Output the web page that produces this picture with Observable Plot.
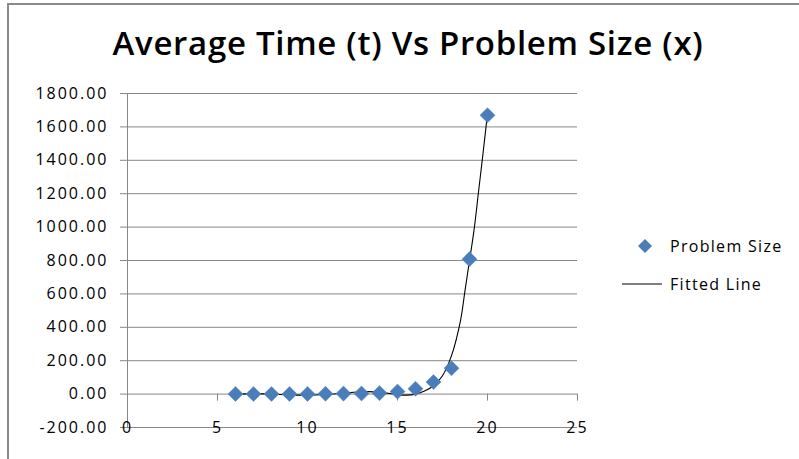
<!DOCTYPE html>
<html>
<head>
<meta charset="utf-8">
<script src="https://cdn.jsdelivr.net/npm/d3@7"></script>
<script src="https://cdn.jsdelivr.net/npm/@observablehq/plot@0.6"></script>
<style>
  html, body { margin: 0; padding: 0; background: #fff; overflow: hidden; }
  #wrap { position: relative; width: 799px; height: 459px; font-family: "Open Sans", sans-serif; }
  #border { position: absolute; left: 7px; top: 3px; width: 900px; height: 600px; border-left: 2px solid #8a8a8a; border-top: 2px solid #8a8a8a; }
  #title { position: absolute; left: 8px; top: 20px; width: 800px; text-align: center; font-family: "Open Sans", sans-serif; font-weight: 600; font-size: 33px; color: #000; letter-spacing: 0.7px; }
  #chart { position: absolute; left: 0; top: 0; }
  .leg { position: absolute; font-size: 16px; color: #000; white-space: nowrap; letter-spacing: 1.3px; }
</style>
</head>
<body>
<div id="wrap">
  <div id="chart"></div>
  <div id="border"></div>
  <div id="title">Average Time (t) Vs Problem Size (x)</div>
  <div id="legend"></div>
</div>
<script>
// Data
const sizes = [6, 7, 8, 9, 10, 11, 12, 13, 14, 15, 16, 17, 18, 19, 20];
const times = [1, 1, 1, 1, 1, 2, 3, 4, 6, 15, 32, 72, 155, 808, 1670];
const fitX = [6, 7, 8, 9, 10, 11, 12, 13, 14, 15, 15.5, 16, 16.5, 17, 17.5, 18, 18.5, 18.75, 19, 19.25, 19.5, 19.75, 20];
const fitY = [0, 3, 0, -5, -6, -2, 5, 14, 12, -3, -6, 0, 18, 50, 110, 230, 440, 620, 800, 980, 1210, 1440, 1680];
const xTicks = [0, 5, 10, 15, 20, 25];
const yTicks = [-200, 0, 200, 400, 600, 800, 1000, 1200, 1400, 1600, 1800];
const seriesNames = ["Problem Size", "Fitted Line"];

const points = sizes.map((x, i) => ({x, y: times[i]}));
const fit = fitX.map((x, i) => ({x, y: fitY[i]}));

const grid = "#878787";
const blue = "#4a7ebb";

const chart = Plot.plot({
  width: 799,
  height: 459,
  marginLeft: 127,
  marginRight: 222,
  marginTop: 93,
  marginBottom: 32,
  style: {fontFamily: "Open Sans, sans-serif", fontSize: "16px", color: "#000", background: "transparent", letterSpacing: "2px"},
  x: {domain: [0, 25], ticks: xTicks, label: null},
  y: {domain: [-200, 1800], ticks: yTicks, label: null},
  marks: [
    Plot.gridY(yTicks, {stroke: grid, strokeOpacity: 1}),
    Plot.ruleX([0], {y1: -200, y2: 1800, stroke: grid}),
    Plot.ruleX(xTicks, {x: d => d, y1: 0, y2: 0, insetBottom: -7, stroke: grid}),
    Plot.axisY(yTicks, {tickSize: 7, tickPadding: 12, tickFormat: d => d.toFixed(2), stroke: grid, fill: "#000", fontSize: 16, label: null}),
    Plot.axisX(xTicks, {anchor: "bottom", tickSize: 0, tickPadding: 0, lineAnchor: "middle", fill: "#000", fontSize: 16, label: null}),
    Plot.line(fit, {x: "x", y: "y", curve: "catmull-rom", stroke: "#000", strokeWidth: 1.1}),
    Plot.dot(points, {x: "x", y: "y", symbol: "diamond2", r: 6.8, fill: blue, stroke: "#5b8cc6", strokeWidth: 0.5})
  ]
});
document.getElementById("chart").appendChild(chart);

// Legend
const legend = document.getElementById("legend");
legend.innerHTML = `
  <svg style="position:absolute;left:617px;top:232px" width="50" height="60">
    <path d="M28,7 L35,14 L28,21 L21,14 Z" fill="${blue}"/>
    <line x1="5" y1="52" x2="45" y2="52" stroke="#000" stroke-width="1.1"/>
  </svg>
  <div class="leg" style="left:670px;top:235px">${seriesNames[0]}</div>
  <div class="leg" style="left:670px;top:273px">${seriesNames[1]}</div>
`;
</script>
</body>
</html>
